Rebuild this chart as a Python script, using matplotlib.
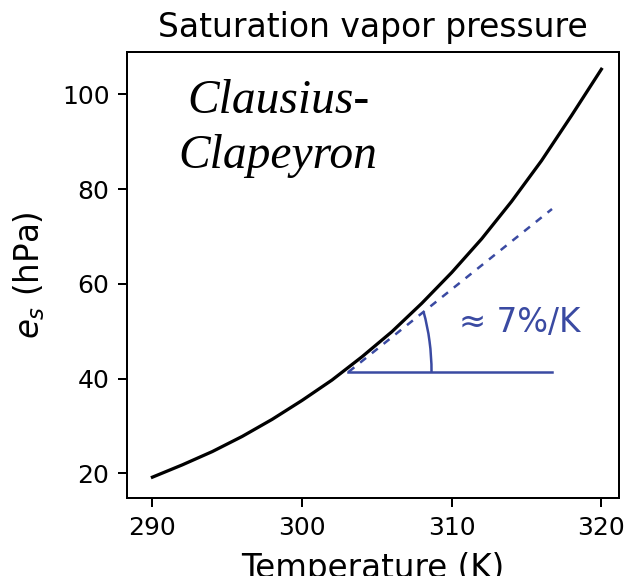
import numpy as np
import matplotlib.pyplot as plt
from matplotlib.patches import Arc

# Saturation vapor pressure curve
temp_K = [290, 292, 294, 296, 298, 300, 302, 304, 306, 308, 310, 312, 314, 316, 318, 320]
es_hPa = [19.2, 21.8, 24.6, 27.8, 31.4, 35.4, 39.7, 44.6, 49.9, 55.9, 62.4, 69.5, 77.4, 86.0, 95.5, 105.3]

# Tangent (dashed) and reference horizontal line
tangent_T = [303.1, 316.7]
tangent_es = [41.4, 75.8]
flat_T = [303.1, 316.7]
flat_es = [41.4, 41.4]

x_ticks = [290, 300, 310, 320]
y_ticks = [20, 40, 60, 80, 100]

blue = "#3a4aa2"

fig = plt.figure(figsize=(628 / 180, 576 / 180), dpi=180)
ax = fig.add_axes([0.2022, 0.1354, 0.9862 - 0.2022, 0.9102 - 0.1354])

ax.plot(temp_K, es_hPa, color="black", lw=1.3)
ax.plot(tangent_T, tangent_es, color=blue, lw=1.0, linestyle=(0, (3, 3)))
ax.plot(flat_T, flat_es, color=blue, lw=1.0)

# angle arc between the horizontal and the tangent
slope = (tangent_es[1] - tangent_es[0]) / (tangent_T[1] - tangent_T[0])
ang = np.degrees(np.arctan(slope))
ax.add_patch(Arc((tangent_T[0], tangent_es[0]), width=11.1, height=59.4,
                 theta1=0, theta2=ang, color=blue, lw=1.0))

ax.text(310.5, 51.9, "\u2248 7%/K", color=blue, fontsize=13, va="center", ha="left")
ax.text(298.4, 92.8, "Clausius-\nClapeyron", fontsize=19, family="Liberation Serif",
        style="italic", ha="center", va="center", linespacing=1.3)

ax.set_xlim(288.3, 321.2)
ax.set_ylim(14.8, 109)
ax.set_xticks(x_ticks)
ax.set_yticks(y_ticks)
ax.tick_params(labelsize=10)
ax.set_xlabel("Temperature (K)", fontsize=13, labelpad=5)
ax.set_ylabel("$e_s$ (hPa)", fontsize=13, labelpad=6)
ax.set_title("Saturation vapor pressure", fontsize=13.2)

plt.savefig("out.png", dpi=180)
